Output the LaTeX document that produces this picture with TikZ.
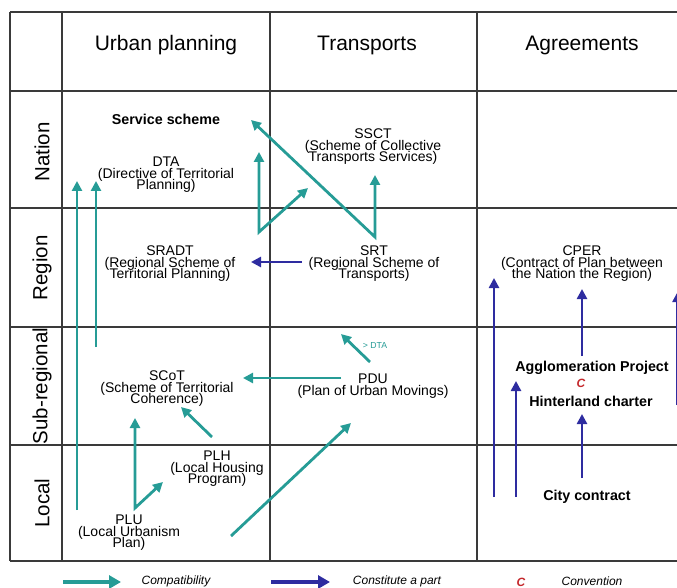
\documentclass[tikz,border=0pt]{standalone}
\usepackage{fontspec}
\setmainfont{Liberation Sans}
\usetikzlibrary{arrows.meta}
\definecolor{compatcol}{RGB}{38,156,150}
\definecolor{partcol}{RGB}{46,44,160}
\definecolor{gridcol}{RGB}{58,58,58}
\definecolor{convcol}{RGB}{196,40,44}
\newcommand\tightlines{\lineskiplimit=-100pt\relax}

\begin{document}
\begin{tikzpicture}[x=1pt,y=-1pt,
  gridline/.style={draw=gridcol, line width=1.8pt},
  head/.style={font=\fontsize{21}{24}\selectfont},
  level/.style={font=\fontsize{20.5}{24}\selectfont, rotate=90},
  doc/.style={align=center, inner sep=0pt, font=\fontsize{14}{11.5}\selectfont\tightlines},
  bdoc/.style={inner sep=0pt, font=\fontsize{14.3}{16}\selectfont\bfseries},
  legend/.style={inner sep=0pt, font=\fontsize{12}{14}\selectfont\itshape},
  compat/.style={compatcol, line width=2.8pt, -{Triangle[length=10pt,width=10pt]}},
  compatboth/.style={compatcol, line width=2.8pt, {Triangle[length=10pt,width=10pt]}-{Triangle[length=10pt,width=10pt]}},
  part/.style={partcol, line width=2.8pt, -{Triangle[length=10pt,width=10pt]}}]
\useasboundingbox (0,0) rectangle (677,588);

% table
\draw[gridline] (10,12) -- (700,12)
                (10,91) -- (700,91)
                (10,208) -- (700,208)
                (10,327) -- (700,327)
                (10,445) -- (700,445)
                (10,561) -- (700,561);
\draw[gridline] (10,12) -- (10,561)
                (62,12) -- (62,561)
                (270,12) -- (270,561)
                (477,12) -- (477,561);

\node[head] (hurb) at (166,45) {Urban planning};
\node[head] (htra) at (367,45) {Transports};
\node[head] (hagr) at (582,45) {Agreements};

\node[level] (lnat) at (42,152) {Nation};
\node[level] (lreg) at (42,268) {Region};
\node[level] (lsub) at (42,386) {Sub-regional};
\node[level] (lloc) at (42,503) {Local};

% documents
\node[bdoc] (service) at (166,119) {Service scheme};
\node[doc] (dta) at (166,175) {DTA\\(Directive of Territorial\\Planning)};
\node[doc] (ssct) at (373,147) {SSCT\\(Scheme of Collective\\Transports Services)};
\node[doc] (sradt) at (170,264) {SRADT\\(Regional Scheme of\\Territorial Planning)};
\node[doc] (srt) at (374,264) {SRT\\(Regional Scheme of\\Transports)};
\node[doc] (cper) at (582,264) {CPER\\(Contract of Plan between\\the Nation the Region)};
\node[doc] (scot) at (167,389) {SCoT\\(Scheme of Territorial\\Coherence)};
\node[doc] (pdu) at (373,386) {PDU\\(Plan of Urban Movings)};
\node[inner sep=0pt, text=compatcol, font=\fontsize{8.7}{10}\selectfont] (gtdta) at (375,346) {> DTA};
\node[bdoc] (agglo) at (592,368) {Agglomeration Project};
\node[inner sep=0pt, text=convcol, font=\fontsize{12}{14}\selectfont\bfseries\itshape] (conv) at (581,383) {C};
\node[bdoc] (hinter) at (591,401) {Hinterland charter};
\node[doc] (plh) at (217,469) {PLH\\(Local Housing\\Program)};
\node[doc] (plu) at (129,533) {PLU\\(Local Urbanism\\Plan)};
\node[bdoc] (city) at (587,497) {City contract};

% compatibility
\coordinate (plu-a) at (77,510);   \coordinate (dta-a) at (77,181);
\coordinate (scot-a) at (96,347);  \coordinate (dta-b) at (96,181);
\coordinate (sradt-a) at (259,232); \coordinate (service-a) at (259,152);
\coordinate (ssct-a) at (308,188);
\coordinate (srt-a) at (375,237);  \coordinate (service-b) at (251,120);
\coordinate (ssct-b) at (375,175);
\coordinate (pdu-a) at (341,378);  \coordinate (scot-b) at (243,378);
\coordinate (pdu-b) at (370,362);  \coordinate (gtdta-a) at (341,334);
\coordinate (plh-a) at (212,437);  \coordinate (scot-c) at (181,407);
\coordinate (plu-b) at (135,508);  \coordinate (scot-d) at (135,418);
\coordinate (plh-b) at (163,482);
\coordinate (plu-c) at (231,536);  \coordinate (pdu-c) at (351,423);

\draw[compat] (plu-a) -- (dta-a);
\draw[compat] (scot-a) -- (dta-b);
\draw[compatboth] (service-a) -- (sradt-a) -- (ssct-a);
\draw[compatboth] (service-b) -- (srt-a) -- (ssct-b);
\draw[compat] (pdu-a) -- (scot-b);
\draw[compat] (pdu-b) -- (gtdta-a);
\draw[compat] (plh-a) -- (scot-c);
\draw[compatboth] (scot-d) -- (plu-b) -- (plh-b);
\draw[compat] (plu-c) -- (pdu-c);

% constitute a part
\coordinate (srt-b) at (302,262);  \coordinate (sradt-b) at (251,262);
\coordinate (loc-a) at (494,497);  \coordinate (cper-a) at (494,278);
\coordinate (loc-b) at (516,497);  \coordinate (agglo-a) at (516,381);
\coordinate (city-a) at (582,478); \coordinate (hinter-a) at (582,414);
\coordinate (agglo-b) at (582,356); \coordinate (cper-b) at (582,289);
\coordinate (edge-a) at (677.5,405); \coordinate (edge-b) at (677.5,292);

\draw[part] (srt-b) -- (sradt-b);
\draw[part] (loc-a) -- (cper-a);
\draw[part] (loc-b) -- (agglo-a);
\draw[part] (city-a) -- (hinter-a);
\draw[part] (agglo-b) -- (cper-b);
\draw[part] (edge-a) -- (edge-b);

% legend
\coordinate (lg-a) at (63,582);  \coordinate (lg-b) at (121,582);
\coordinate (lg-c) at (271,582); \coordinate (lg-d) at (330,582);
\draw[compatcol, line width=4pt, -{Triangle[length=12pt,width=13pt]}] (lg-a) -- (lg-b);
\draw[partcol, line width=4pt, -{Triangle[length=12pt,width=13pt]}] (lg-c) -- (lg-d);
\node[legend] (lcompat) at (176,581) {Compatibility};
\node[legend] (lpart) at (397,581) {Constitute a part};
\node[inner sep=0pt, text=convcol, font=\fontsize{12}{14}\selectfont\bfseries\itshape] (lconvc) at (521,582) {C};
\node[legend] (lconv) at (592,581) {Convention};
\end{tikzpicture}
\end{document}
